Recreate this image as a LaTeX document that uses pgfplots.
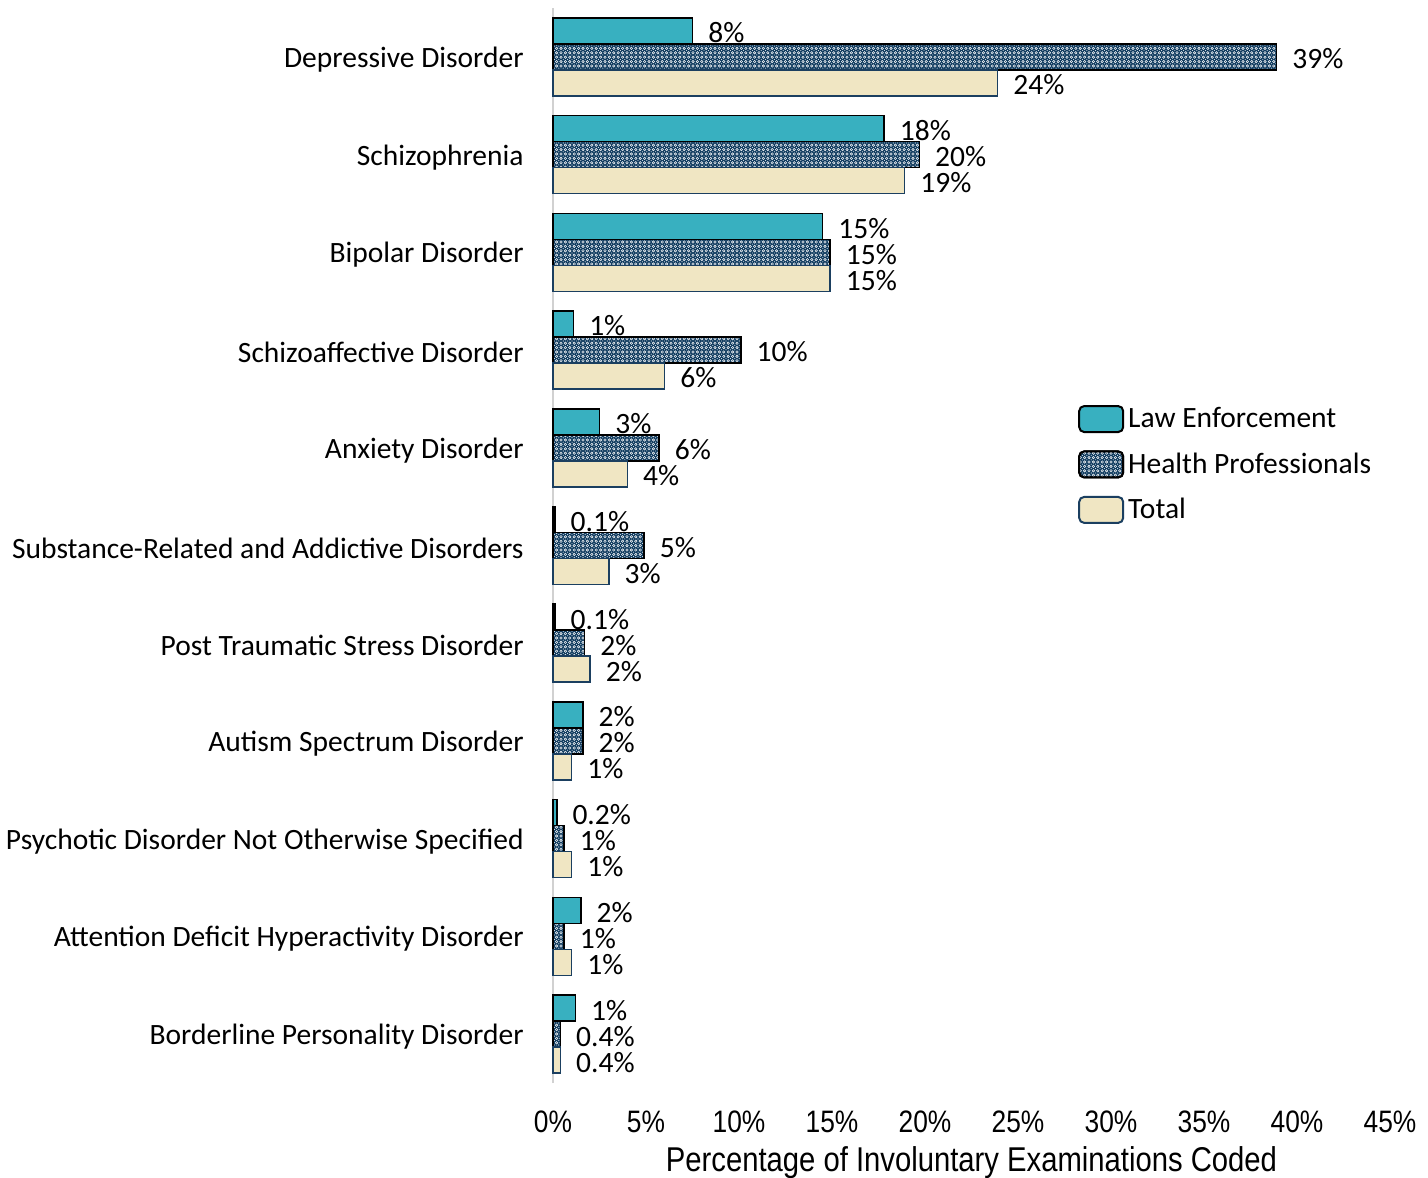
\documentclass[border=0pt]{standalone}
\usepackage{pgfplots}
\pgfplotsset{compat=1.18}
\usepackage{pgfplotstable}
\usetikzlibrary{patterns}
\usepackage{fontspec}
\setmainfont{Carlito}
\newfontfamily\narrowfont{Liberation Sans}[FakeStretch=0.85]
\definecolor{leTeal}{HTML}{38B0C0}
\definecolor{hpNavy}{HTML}{0E3A5E}
\definecolor{totCream}{HTML}{F0E6C3}
\definecolor{totEdge}{HTML}{1B3F60}

\pgfdeclarepatternformonly{lattice}{\pgfqpoint{-1pt}{-1pt}}{\pgfqpoint{3.2pt}{3.2pt}}{\pgfqpoint{2.2pt}{2.2pt}}{
  \pgfsetlinewidth{0.3pt}
  \pgfpathcircle{\pgfqpoint{1.1pt}{1.1pt}}{0.62pt}\pgfusepath{stroke}
  \pgfpathcircle{\pgfqpoint{0pt}{0pt}}{0.28pt}\pgfusepath{fill}
}

\pgfplotstableread{
y x lab
10 7.5 8
9 17.8 18
8 14.5 15
7 1.1 1
6 2.5 3
5 0.1 0.1
4 0.1 0.1
3 1.6 2
2 0.2 0.2
1 1.5 2
0 1.2 1
}\dataLE
\pgfplotstableread{
y x lab
10 38.9 39
9 19.7 20
8 14.9 15
7 10.1 10
6 5.7 6
5 4.9 5
4 1.7 2
3 1.6 2
2 0.6 1
1 0.6 1
0 0.4 0.4
}\dataHP
\pgfplotstableread{
y x lab
10 23.9 24
9 18.9 19
8 14.9 15
7 6.0 6
6 4.0 4
5 3.0 3
4 2.0 2
3 1.0 1
2 1.0 1
1 1.0 1
0 0.4 0.4
}\dataTot

\begin{document}
\begin{tikzpicture}
\useasboundingbox (-276.5pt,-47pt) rectangle (437.5pt,541.5pt);
\begin{axis}[
  at={(0,0)}, anchor=south west,
  scale only axis,
  width=418.5pt, height=537.5pt,
  xbar,
  legend image code/.code={\draw[#1, rounded corners=2.5pt, line width=1pt] (0pt,-6.5pt) rectangle (22pt,6.5pt);},
  xmin=0, xmax=45,
  ymin=-0.5, ymax=10.5,
  clip=false,
  axis y line*=left, axis x line*=bottom,
  x axis line style={draw=none},
  y axis line style={-, draw=black!18, line width=1pt},
  major tick length=0pt,
  xtick={0,5,...,45},
  xticklabels={0\%,5\%,10\%,15\%,20\%,25\%,30\%,35\%,40\%,45\%},
  xticklabel style={font=\narrowfont\fontsize{15.5}{18}\selectfont, anchor=center, yshift=-19.5pt},
  ytick={0,...,10},
  yticklabels={Borderline Personality Disorder,Attention Deficit Hyperactivity Disorder,Psychotic Disorder Not Otherwise Specified,Autism Spectrum Disorder,Post Traumatic Stress Disorder,Substance-Related and Addictive Disorders,Anxiety Disorder,Schizoaffective Disorder,Bipolar Disorder,Schizophrenia,Depressive Disorder},
  yticklabel style={font=\fontsize{14.75}{17}\selectfont, anchor=east, inner sep=0pt, xshift=-14.5pt, yshift=-1.3pt},
  xlabel={Percentage of Involuntary Examinations Coded},
  xlabel style={font=\narrowfont\fontsize{17.2}{20}\selectfont, at={(0.5,0)}, anchor=center, yshift=-40pt},
  bar width=13pt,
  point meta=explicit symbolic,
  nodes near coords={\pgfplotspointmeta\%},
  every node near coord/.append style={font=\fontsize{14.75}{17}\selectfont, anchor=west, inner sep=0pt, xshift=7.5pt, yshift=-1pt, text=black},
  legend style={at={(0.627,0.6325)}, anchor=north west, draw=none, fill=none,
    font=\fontsize{14.75}{17}\selectfont, row sep=7pt, inner sep=0pt,
    /tikz/every even column/.append style={column sep=0pt}},
  legend cell align=left,
]
\addplot[bar shift=13pt, fill=leTeal, draw=black, line width=0.8pt]
  table[x=x, y=y, meta=lab] {\dataLE};
\addlegendentry{Law Enforcement}
\addplot[bar shift=0pt, fill=hpNavy, draw=black, line width=0.8pt,
  postaction={pattern=lattice, pattern color=white!90!hpNavy}]
  table[x=x, y=y, meta=lab] {\dataHP};
\addlegendentry{Health Professionals}
\addplot[bar shift=-13pt, fill=totCream, draw=totEdge, line width=0.8pt]
  table[x=x, y=y, meta=lab] {\dataTot};
\addlegendentry{Total}
\end{axis}
\end{tikzpicture}
\end{document}
